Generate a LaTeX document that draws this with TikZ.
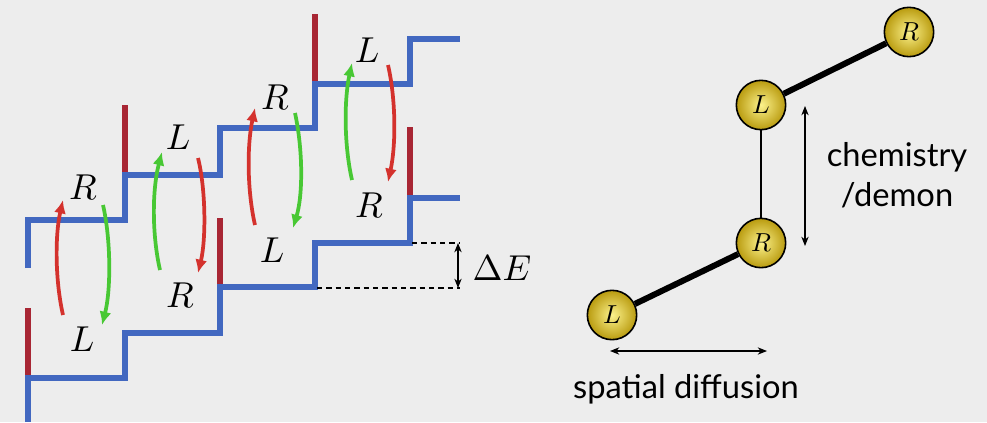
\documentclass[tikz,border=0pt]{standalone}
\usepackage{graphicx}
\usepackage{fontspec}
\newfontfamily\labfont{Lato}
\usetikzlibrary{arrows.meta,backgrounds}
\definecolor{bgcol}{HTML}{EDEDED}
\definecolor{wallblue}{RGB}{66,104,192}
\definecolor{gatered}{RGB}{168,38,52}
\definecolor{arrred}{RGB}{212,50,45}
\definecolor{arrgreen}{RGB}{72,200,52}
\definecolor{ballin}{RGB}{252,242,140}
\definecolor{ballout}{RGB}{185,155,15}
\newcommand{\mybigmath}[1]{\scalebox{2.7}{$#1$}}
\newcommand{\myballmath}[1]{\scalebox{1.95}{$#1$}}
\tikzset{
  wall/.style={wallblue,line width=3.8pt},
  gate/.style={gatered,line width=3.8pt},
  hop/.style={line width=2.8pt,-{Latex[length=10pt,width=9pt]}},
  biglab/.style={inner sep=0pt},
  ball/.style={circle,draw=black,line width=1.2pt,minimum size=37pt,inner sep=0pt,
    inner color=ballin,outer color=ballout},
  dbl/.style={black,line width=0.9pt,{Stealth[length=7pt,width=5.5pt]}-{Stealth[length=7pt,width=5.5pt]}},
  sidetext/.style={font=\labfont\fontsize{24.5}{30}\selectfont,align=center,inner sep=0pt}
}
\begin{document}
\begin{tikzpicture}[x=0.75pt,y=-0.75pt]
\useasboundingbox (0,0) rectangle (987,422);
\begin{scope}[on background layer]
\fill[bgcol] (0,0) rectangle (987,422);
\end{scope}
% gates
\draw[gate] (28,308) -- (28,378);
\draw[gate] (125,105) -- (125,175);
\draw[gate] (220,218) -- (220,287);
\draw[gate] (315,14) -- (315,84);
\draw[gate] (410,127) -- (410,198);
% staircases
\draw[wall] (28,422) -- (28,378) -- (125,378) -- (125,333) -- (220,333) -- (220,287) -- (315,287) -- (315,243) -- (410,243) -- (410,198) -- (460,198);
\draw[wall] (28,268) -- (28,220) -- (125,220) -- (125,175) -- (220,175) -- (220,128) -- (315,128) -- (315,84) -- (410,84) -- (410,39) -- (460,39);
% labels
\node[biglab] (r1) at (83,187) {\mybigmath{R}};
\node[biglab] (l1) at (82,339) {\mybigmath{L}};
\node[biglab] (l2) at (178,137) {\mybigmath{L}};
\node[biglab] (r2) at (180,295) {\mybigmath{R}};
\node[biglab] (r3) at (275,97) {\mybigmath{R}};
\node[biglab] (l3) at (272,250) {\mybigmath{L}};
\node[biglab] (l4) at (367,50) {\mybigmath{L}};
\node[biglab] (r4) at (369,205) {\mybigmath{R}};
% hop arrows
\coordinate (a1s) at (63,315); \coordinate (a1e) at (63,200);
\coordinate (b1s) at (103,205); \coordinate (b1e) at (102,325);
\coordinate (a2s) at (160,270); \coordinate (a2e) at (162,152);
\coordinate (b2s) at (198,158); \coordinate (b2e) at (198,273);
\coordinate (a3s) at (255,225); \coordinate (a3e) at (255,108);
\coordinate (b3s) at (295,113); \coordinate (b3e) at (293,228);
\coordinate (a4s) at (352,180); \coordinate (a4e) at (352,63);
\coordinate (b4s) at (388,65); \coordinate (b4e) at (388,182);
\draw[hop,arrred] (a1s) .. controls (55,280) and (55,235) .. (a1e);
\draw[hop,arrgreen] (b1s) .. controls (111,240) and (111,290) .. (b1e);
\draw[hop,arrgreen] (a2s) .. controls (152,235) and (152,190) .. (a2e);
\draw[hop,arrred] (b2s) .. controls (206,190) and (206,240) .. (b2e);
\draw[hop,arrred] (a3s) .. controls (247,190) and (247,145) .. (a3e);
\draw[hop,arrgreen] (b3s) .. controls (303,150) and (303,195) .. (b3e);
\draw[hop,arrgreen] (a4s) .. controls (344,145) and (344,100) .. (a4e);
\draw[hop,arrred] (b4s) .. controls (396,100) and (396,145) .. (b4e);
% Delta E
\coordinate (d1a) at (412,243); \coordinate (d1b) at (460,243);
\coordinate (d2a) at (317,288); \coordinate (d2b) at (460,288);
\draw[black,line width=0.8pt,dash pattern=on 4pt off 3pt] (d1a) -- (d1b);
\draw[black,line width=0.8pt,dash pattern=on 4pt off 3pt] (d2a) -- (d2b);
\coordinate (de1) at (458,243); \coordinate (de2) at (458,288);
\draw[dbl] (de1) -- (de2);
\node[biglab] (de) at (502,268) {\mybigmath{\Delta E}};
% right diagram
\node[ball] (q1) at (612,315) {\myballmath{L}};
\node[ball] (q2) at (761,243) {\myballmath{R}};
\node[ball] (q3) at (761,105) {\myballmath{L}};
\node[ball] (q4) at (909,32) {\myballmath{R}};
\begin{scope}[on background layer]
\draw[line width=4.5pt] (q1) -- (q2);
\draw[line width=4.5pt] (q3) -- (q4);
\draw[line width=0.9pt] (q3) -- (q2);
\end{scope}
\coordinate (v1) at (805,106); \coordinate (v2) at (805,246);
\draw[dbl] (v1) -- (v2);
\coordinate (h1) at (610,351); \coordinate (h2) at (767,351);
\draw[dbl] (h1) -- (h2);
\node[sidetext] (chem) at (897,175) {chemistry\\/demon};
\node[sidetext] (sd) at (686,389) {spatial diffusion};
\end{tikzpicture}
\end{document}
